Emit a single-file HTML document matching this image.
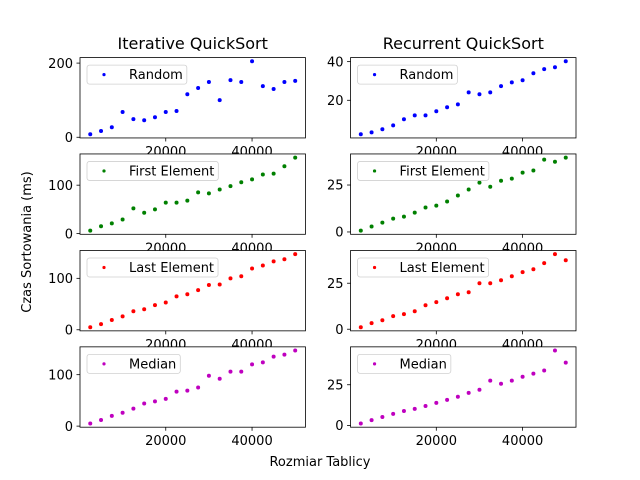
<!DOCTYPE html>
<html><head><meta charset="utf-8"><style>
html,body{margin:0;padding:0;background:#fff;}
svg{display:block;font-family:"DejaVu Sans","Liberation Sans",sans-serif;}
</style></head><body>
<svg id="chart" width="640" height="480" viewBox="0 0 640 480" xmlns="http://www.w3.org/2000/svg">
<rect x="0" y="0" width="640" height="480" fill="#fff"/>
<text x="192.7" y="49" font-size="16" text-anchor="middle" fill="#000">Iterative QuickSort</text>
<text x="463.3" y="49" font-size="16" text-anchor="middle" fill="#000">Recurrent QuickSort</text>
<text x="320" y="466" font-size="13" text-anchor="middle" fill="#000">Rozmiar Tablicy</text>
<text x="0" y="0" font-size="13" text-anchor="middle" fill="#000" transform="translate(31,242) rotate(-90)">Czas Sortowania (ms)</text>
<g id="panels"></g>
</svg>
<script>
const sizes = [2500,5000,7500,10000,12500,15000,17500,20000,22500,25000,27500,30000,32500,35000,37500,40000,42500,45000,47500,50000];
const xTicks = [20000, 40000];
const iterRandom = [8,17,27,68,49,46,54,68,71,116,133,149,100,154,149,205,138,130,149,152];
const iterFirst = [6,15,21,29,52,43,50,64,64,68,85,83,91,98,106,112,122,124,139,157];
const iterLast = [5,11,19,26,36,40,48,53,65,69,77,87,88,100,104,119,125,133,137,147];
const iterMedian = [5,12,20,26,34,44,48,53,67,69,75,98,92,106,106,120,124,135,139,147];
const recRandom = [2.4,3.4,5,7,10.2,12.2,12.2,14.3,16.4,17.9,24.1,23.1,24.1,27.3,29.3,30.4,34,36.1,37.1,40.2];
const recFirst = [0.7,2.9,5,7.1,8.2,10.3,13,14,16.2,19.4,22.6,26.3,24.1,27.3,28.4,31.6,32.7,38.5,37.4,39.6];
const recLast = [1.1,3.3,4.9,7.1,8.2,9.8,13,14.7,16.8,19,20.1,25,25,26.6,28.8,31,32.6,35.9,40.8,37.5];
const recMedian = [1.2,3.3,5.2,7.1,8.9,10.2,12,13.9,15.7,17.6,20,21.9,27.5,25.6,27.5,29.9,31.8,33.7,46,38.6];
const yTicksIterRandom = [0,200];
const yTicksIter = [0,100];
const yTicksRecRandom = [20,40];
const yTicksRec = [0,25];
const labels = ["Random","First Element","Last Element","Median"];
const colors = ["#0000ff","#008000","#ff0000","#bf00bf"];
const iterSeries = [iterRandom, iterFirst, iterLast, iterMedian];
const recSeries = [recRandom, recFirst, recLast, recMedian];

const NS = "http://www.w3.org/2000/svg";
const root = document.getElementById("panels");
function mk(tag, attrs, parent) {
  const e = document.createElementNS(NS, tag);
  for (const k in attrs) e.setAttribute(k, attrs[k]);
  parent.appendChild(e);
  return e;
}
const colL = [80, 350.55], W = 225.45;
const rowT = [57.6, 153.95, 250.5, 346.85], H = 80.35;

function drawPanel(col, row, data, yTicks, label, color, slug) {
  const g = mk("g", {}, root);
  
  
  const L = colL[col], T = rowT[row];
  const xmin = Math.min(...sizes), xmax = Math.max(...sizes);
  const xm = (xmax - xmin) * 0.05;
  const x0 = xmin - xm, x1 = xmax + xm;
  const ymin = Math.min(...data), ymax = Math.max(...data);
  const ym = (ymax - ymin) * 0.05;
  const y0 = ymin - ym, y1 = ymax + ym;
  const sx = v => L + (v - x0) / (x1 - x0) * W;
  const sy = v => T + H - (v - y0) / (y1 - y0) * H;
  const bg = mk("rect", {x:L, y:T, width:W, height:H, fill:"#fff"}, g);
  
  
  data.forEach((v, i) => {
    const c = mk("circle", {cx:sx(sizes[i]), cy:sy(v), r:2, fill:color}, g);
    
    
  });
  const fr = mk("rect", {x:L, y:T, width:W, height:H, fill:"none", stroke:"#000", "stroke-width":0.8}, g);
  
  
  xTicks.forEach(t => {
    const x = sx(t);
    mk("line", {x1:x, x2:x, y1:T+H, y2:T+H+3.5, stroke:"#000", "stroke-width":0.8}, g);
    const tx = mk("text", {x:x, y:T+H+18, "font-size":13, "text-anchor":"middle", fill:"#000"}, g);
    tx.textContent = t;
    
    
  });
  yTicks.forEach(t => {
    const y = sy(t);
    mk("line", {x1:L-3.5, x2:L, y1:y, y2:y, stroke:"#000", "stroke-width":0.8}, g);
    const tx = mk("text", {x:L-7, y:y+4.7, "font-size":13, "text-anchor":"end", fill:"#000"}, g);
    tx.textContent = t;
    
    
  });
  const lg = mk("g", {}, g);
  
  
  const box = mk("rect", {x:L+7, y:T+7.5, width:0, height:19, rx:2.5, fill:"#fff", "fill-opacity":0.8, stroke:"#d0d0d0", "stroke-width":0.8}, lg);
  mk("circle", {cx:L+24, cy:T+17, r:1.6, fill:color}, lg);
  const lt = mk("text", {x:L+49, y:T+21.5, "font-size":13, fill:"#000"}, lg);
  lt.textContent = label;
  
  
  const w = lt.getComputedTextLength();
  box.setAttribute("width", (49 + w + 4) - 7);
}
const slugs = ["random","first-element","last-element","median"];
for (let r = 0; r < 4; r++) {
  drawPanel(0, r, iterSeries[r], r === 0 ? yTicksIterRandom : yTicksIter, labels[r], colors[r], "iterative-" + slugs[r]);
  drawPanel(1, r, recSeries[r], r === 0 ? yTicksRecRandom : yTicksRec, labels[r], colors[r], "recurrent-" + slugs[r]);
}
</script>
</body></html>
